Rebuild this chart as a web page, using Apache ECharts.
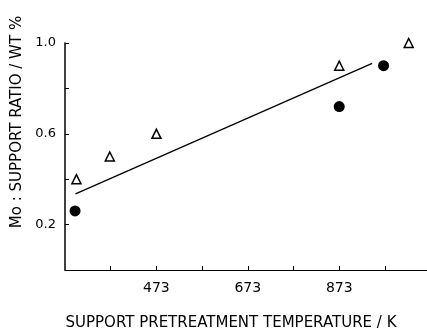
<!DOCTYPE html>
<html>
<head>
<meta charset="utf-8">
<script src="https://cdn.jsdelivr.net/npm/echarts@6/dist/echarts.min.js"></script>
<style>
  html, body { margin: 0; padding: 0; background: #fff; }
  #chart { width: 427px; height: 330px; }
</style>
</head>
<body>
<div id="chart"></div>
<script>
// triangles (open) and circles (filled), temperature in K vs Mo : support ratio
var triTemp = [298, 371, 473, 873, 1025];
var triRatio = [0.40, 0.50, 0.60, 0.90, 1.00];
var dotTemp = [295, 873, 970];
var dotRatio = [0.26, 0.72, 0.90];
var fitTemp = [296, 945];
var fitRatio = [0.335, 0.91];
var xTicks = [373, 473, 573, 673, 773, 873, 973];
var xLabels = [473, 673, 873];
var yLabels = [0.2, 0.6, 1.0];

function pairs(xs, ys) {
  return xs.map(function (x, i) { return [x, ys[i]]; });
}

var font = 'DejaVu Sans';
var chart = echarts.init(document.getElementById('chart'));
var option = {
  animation: false,
  backgroundColor: '#fff',
  grid: { left: 65, right: 0, top: 43, bottom: 60, outerBoundsMode: 'none' },
  xAxis: {
    type: 'value',
    min: 273,
    max: 1065,
    interval: 100,
    splitLine: { show: false },
    axisLine: { lineStyle: { color: '#000', width: 1 } },
    axisTick: { inside: true, length: 4, customValues: xTicks, lineStyle: { color: '#000' } },
    axisLabel: { customValues: xLabels, color: '#000', fontFamily: font, fontSize: 14, margin: 11 },
    name: 'SUPPORT PRETREATMENT TEMPERATURE / K',
    nameLocation: 'middle',
    nameGap: 46,
    nameTextStyle: { color: '#000', fontFamily: font, fontSize: 15, padding: [0, 30, 0, 0] }
  },
  yAxis: {
    type: 'value',
    min: 0,
    max: 1.0,
    interval: 0.2,
    splitLine: { show: false },
    axisLine: { show: true, lineStyle: { color: '#000', width: 1.5 } },
    axisTick: { inside: true, length: 4, lineStyle: { color: '#000' } },
    axisLabel: {
      customValues: yLabels,
      color: '#000', fontFamily: font, fontSize: 13, margin: 9,
      formatter: function (v) { return v.toFixed(1); }
    }
  },
  graphic: [{
    type: 'text',
    x: 17,
    y: 122,
    rotation: Math.PI / 2,
    style: {
      text: 'Mo : SUPPORT RATIO / WT %',
      fill: '#000',
      font: '15px "DejaVu Sans"',
      textAlign: 'center',
      textVerticalAlign: 'middle'
    }
  }],
  series: [
    {
      type: 'line',
      data: pairs(fitTemp, fitRatio),
      symbol: 'none',
      lineStyle: { color: '#000', width: 1.3 },
      z: 1
    },
    {
      type: 'scatter',
      data: pairs(triTemp, triRatio),
      symbol: 'triangle',
      symbolSize: 9,
      itemStyle: { color: '#fff', borderColor: '#000', borderWidth: 1.5, opacity: 1 },
      z: 2
    },
    {
      type: 'scatter',
      data: pairs(dotTemp, dotRatio),
      symbol: 'circle',
      symbolSize: 11,
      itemStyle: { color: '#000', opacity: 1 },
      z: 3
    }
  ]
};
chart.setOption(option);
</script>
</body>
</html>
